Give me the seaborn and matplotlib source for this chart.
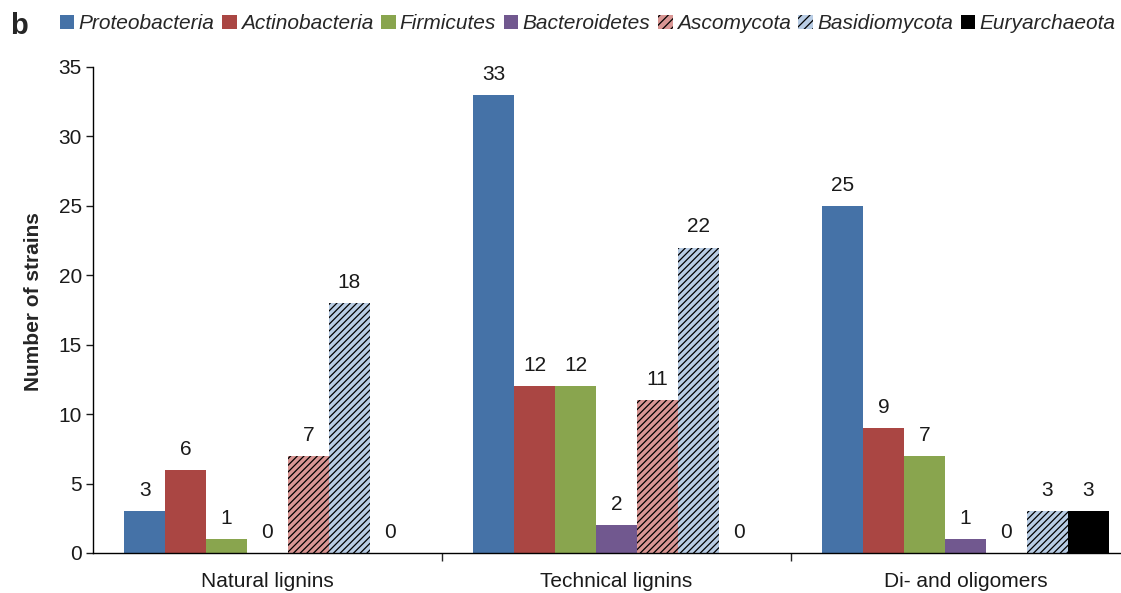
import matplotlib
matplotlib.use("Agg")
import matplotlib.pyplot as plt
import seaborn as sns
import pandas as pd
from matplotlib.patches import Patch

categories = ["Natural lignins", "Technical lignins", "Di- and oligomers"]
phyla = ["Proteobacteria", "Actinobacteria", "Firmicutes", "Bacteroidetes",
         "Ascomycota", "Basidiomycota", "Euryarchaeota"]
proteobacteria = [3, 33, 25]
actinobacteria = [6, 12, 9]
firmicutes = [1, 12, 7]
bacteroidetes = [0, 2, 1]
ascomycota = [7, 11, 0]
basidiomycota = [18, 22, 3]
euryarchaeota = [0, 0, 3]
yticks = [0, 5, 10, 15, 20, 25, 30, 35]

series = [proteobacteria, actinobacteria, firmicutes, bacteroidetes,
          ascomycota, basidiomycota, euryarchaeota]
colors = ["#4572A7", "#AA4643", "#89A54E", "#71588F", "#D99694", "#B9CDE5", "#000000"]
hatches = [None, None, None, None, "/////", "/////", None]

rows = []
for p, vals in zip(phyla, series):
    for c, v in zip(categories, vals):
        rows.append({"Category": c, "Phylum": p, "Count": v})
df = pd.DataFrame(rows)

sns.set_theme(style="white")
plt.rcParams["font.family"] = ["Liberation Sans", "DejaVu Sans"]
plt.rcParams["hatch.linewidth"] = 0.9

fig = plt.figure(figsize=(11.21, 5.93), dpi=100)
ax = fig.add_axes([93 / 1121, 40 / 593, 1 - 93 / 1121, 486 / 593])

sns.barplot(data=df, x="Category", y="Count", hue="Phylum", order=categories,
            hue_order=phyla, palette=colors, width=0.82, saturation=1,
            ax=ax, legend=False, linewidth=0)

for cont, h, col in zip(ax.containers, hatches, colors):
    for bar in cont:
        if h:
            bar.set_hatch(h)
            bar.set_edgecolor("black")
            bar.set_linewidth(0)
    ax.bar_label(cont, padding=8, fontsize=15, color="#1a1a1a")

ax.set_ylim(0, 35)
ax.set_xlim(-0.5, 2.5 - 19 / 349)
ax.set_yticks(yticks)
ax.tick_params(axis="y", labelsize=15, length=5, width=1, direction="out",
               left=True, pad=3, colors="#1a1a1a")
ax.set_xticks([0, 1, 2])
ax.set_xticklabels(categories, fontsize=15)
ax.tick_params(axis="x", length=0, pad=14, colors="#1a1a1a")
ax.set_xticks([0.5, 1.5], minor=True)
ax.tick_params(axis="x", which="minor", length=6, width=1, direction="out", bottom=True)
ax.set_xlabel("")
ax.set_ylabel("Number of strains", fontsize=15, fontweight="bold")
ax.yaxis.set_label_coords(-50 / 1028, 0.518)
for s in ["top", "right"]:
    ax.spines[s].set_visible(False)
for s in ["left", "bottom"]:
    ax.spines[s].set_color("black")
    ax.spines[s].set_linewidth(1)
ax.grid(False)

handles = []
for p, c, h in zip(phyla, colors, hatches):
    if h:
        handles.append(Patch(facecolor=c, edgecolor="black", hatch="////", linewidth=0, label=p))
    else:
        handles.append(Patch(facecolor=c, edgecolor="none", label=p))
leg = fig.legend(handles=handles, loc="upper left", bbox_to_anchor=(0.046, 0.99), ncol=7,
                 frameon=False, handlelength=0.7, handleheight=0.7, handletextpad=0.2,
                 columnspacing=0.37, borderaxespad=0, prop={"style": "italic", "size": 15})

fig.text(10 / 1121, 1 - 34 / 593, "b", fontsize=21, fontweight="bold", ha="left", va="baseline")

fig.savefig("out.png", dpi=100)
